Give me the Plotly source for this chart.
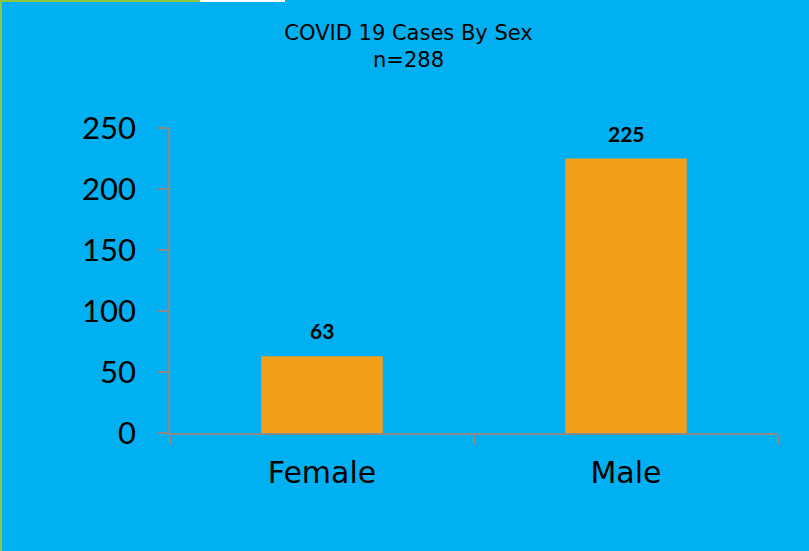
import plotly.graph_objects as go

categories = ["Female", "Male"]
cases = [63, 225]
y_ticks = [0, 50, 100, 150, 200, 250]
title_text = "COVID 19 Cases By Sex<br>n=288"

BLUE = "#00B0F0"
ORANGE = "#F29F1B"
AXIS = "#8A8A8A"

fig = go.Figure()
fig.add_trace(go.Bar(
    x=categories, y=cases,
    marker=dict(color=ORANGE, line=dict(width=0)),
    width=0.4,
    hoverinfo="x+y",
))

for c, v in zip(categories, cases):
    fig.add_annotation(
        x=c, y=v, text=f"<b>{v}</b>", showarrow=False,
        yanchor="bottom", yshift=11,
        font=dict(family="Lato, Liberation Sans, sans-serif", size=21, color="black"),
    )

fig.update_layout(
    width=809, height=551,
    paper_bgcolor=BLUE, plot_bgcolor=BLUE,
    margin=dict(l=170, r=31, t=128, b=118),
    showlegend=False,
    title=dict(
        text=title_text, x=0.505, xanchor="center", y=1 - 40 / 551, yanchor="top",
        font=dict(family="DejaVu Sans, sans-serif", size=21, color="black"),
    ),
    xaxis=dict(
        showline=True, linecolor=AXIS, linewidth=1.5, layer="above traces",
        ticks="outside", tickson="boundaries", ticklen=10, tickcolor=AXIS, tickwidth=1.5,
        showgrid=False, zeroline=False,
        tickfont=dict(family="DejaVu Sans, sans-serif", size=30, color="black"),
        ticklabelstandoff=12,
    ),
    yaxis=dict(
        range=[0, 250], tickvals=y_ticks,
        showline=True, linecolor=AXIS, linewidth=1.5, layer="above traces",
        ticks="outside", ticklen=10, tickcolor=AXIS, tickwidth=1.5,
        showgrid=False, zeroline=False,
        tickfont=dict(family="Lato, Liberation Sans, sans-serif", size=31, color="black"),
        ticklabelstandoff=16,
    ),
    shapes=[
        dict(type="rect", xref="paper", yref="paper", x0=-170 / 608, x1=-168 / 608,
             y0=-118 / 305, y1=(551 - 118) / 305, fillcolor="#8DC63F", line=dict(width=0), layer="below"),
        dict(type="rect", xref="paper", yref="paper", x0=-170 / 608, x1=(200 - 170) / 608,
             y0=(551 - 118 - 2) / 305, y1=(551 - 118) / 305, fillcolor="#8DC63F", line=dict(width=0), layer="below"),
        dict(type="rect", xref="paper", yref="paper", x0=(200 - 170) / 608, x1=(285 - 170) / 608,
             y0=(551 - 118 - 2) / 305, y1=(551 - 118) / 305, fillcolor="white", line=dict(width=0), layer="below"),
    ],
)

fig.write_html("out.html", config={"displayModeBar": False},
               post_script="document.body.style.margin='0';document.body.style.padding='0';")
